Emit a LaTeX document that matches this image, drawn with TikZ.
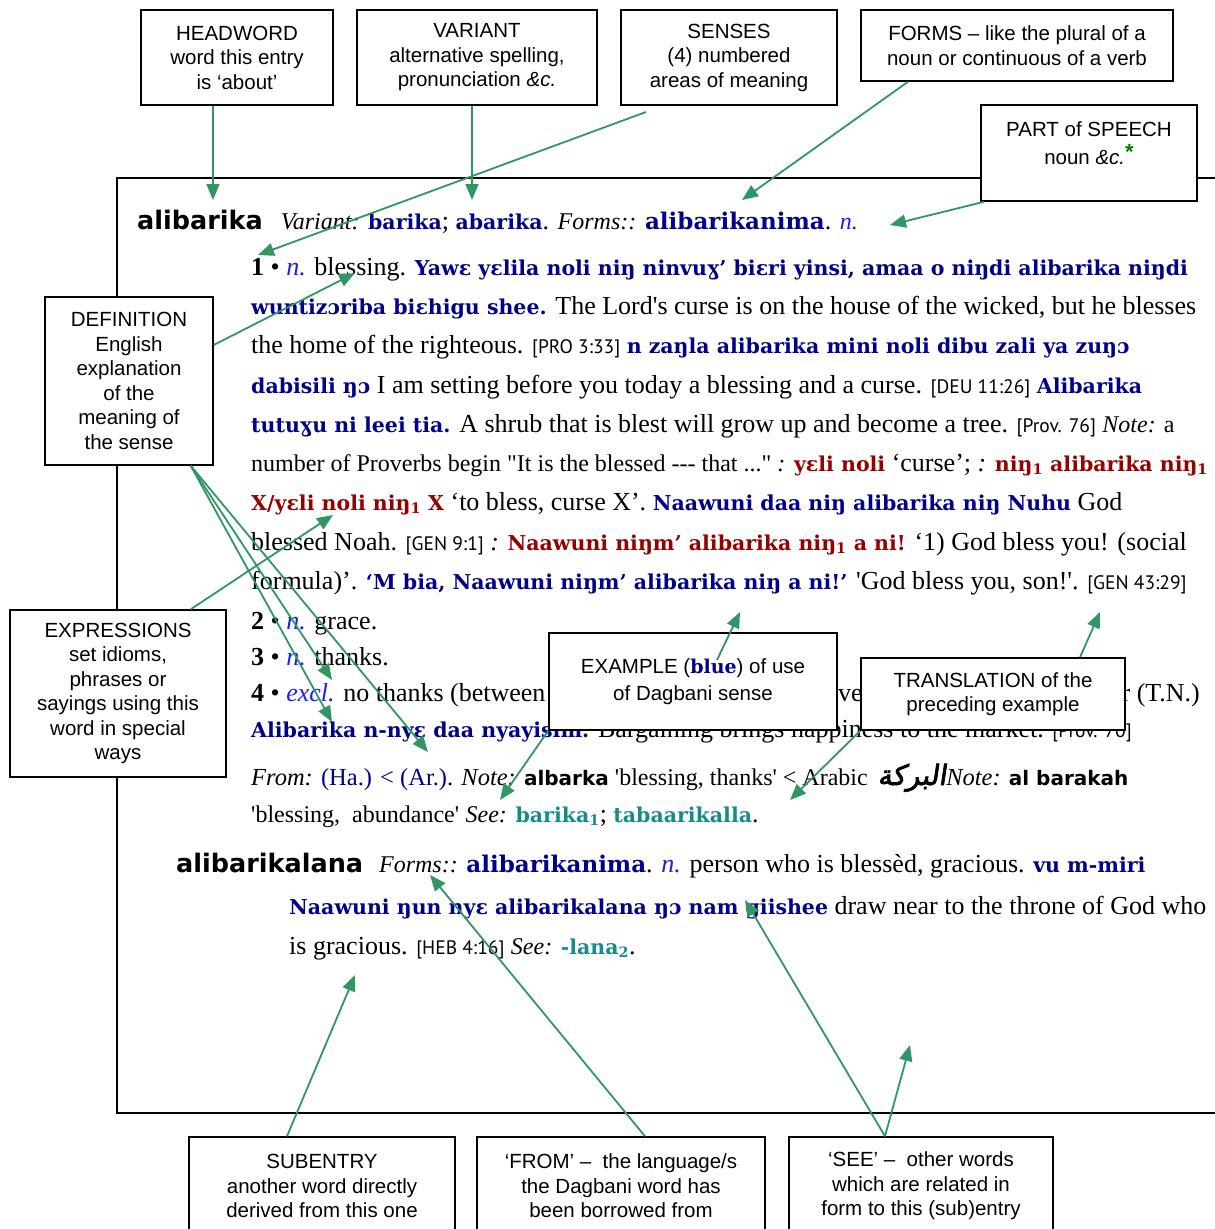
\documentclass[tikz,border=0pt]{standalone}
\usepackage{fontspec}
\setmainfont{Liberation Serif}[Ligatures=TeXOff]
\setsansfont{Liberation Sans}[Ligatures=TeXOff]
\newfontfamily\dagfont{DejaVu Serif}
\newfontfamily\hwfont{DejaVu Sans}
\newfontfamily\reffont{PT Sans}
\newfontfamily\arabicfont[Script=Arabic,FakeBold=2.5,FakeSlant=0.15]{DejaVu Sans}
\TeXXeTstate=1
\usetikzlibrary{arrows.meta}

\definecolor{dgblue}{RGB}{0,0,140}
\definecolor{dgred}{RGB}{150,0,0}
\definecolor{gramblue}{RGB}{30,30,235}
\definecolor{seeteal}{RGB}{20,140,140}
\definecolor{arrowgreen}{RGB}{50,150,100}
\definecolor{stargreen}{RGB}{0,130,0}

% runs of text in the entry
\newcommand{\dgb}[1]{{\dagfont\bfseries\fontsize{20.5bp}{24bp}\selectfont\color{dgblue}#1}}
\newcommand{\dgbig}[1]{{\dagfont\bfseries\fontsize{23bp}{26bp}\selectfont\color{dgblue}#1}}
\newcommand{\dgr}[1]{{\dagfont\bfseries\fontsize{20.5bp}{24bp}\selectfont\color{dgred}#1}}
\newcommand{\dgs}[1]{{\dagfont\bfseries\fontsize{20.5bp}{24bp}\selectfont\color{seeteal}#1}}
\newcommand{\hword}[1]{{\hwfont\bfseries\fontsize{25.5bp}{30bp}\selectfont #1}}
\newcommand{\loan}[1]{{\hwfont\bfseries\fontsize{20bp}{24bp}\selectfont #1}}
\newcommand{\gram}[1]{{\itshape\color{gramblue}#1}}
\newcommand{\bibref}[1]{{\reffont\fontsize{19.5bp}{22bp}\selectfont #1}}
\newcommand{\notesize}{\fontsize{24bp}{28bp}\selectfont}

\begin{document}
\begin{tikzpicture}[x=1bp,y=-1bp,
    entry/.style={anchor=base west, inner sep=0pt, font=\fontsize{26bp}{39bp}\selectfont},
    callout/.style={draw, line width=1.5bp, fill=white, align=center, inner sep=0pt,
      font=\sffamily\fontsize{20.5bp}{24.5bp}\selectfont}]

  \useasboundingbox (0,0) rectangle (1215,1229);
  \clip (0,0) rectangle (1215,1229);

  % page frame
  \draw[line width=1.5bp] (1230,178) -- (117,178) -- (117,1113) -- (1230,1113);

  % the entry
  \begin{scope}[every node/.style={entry}]
    \node (hw)  at (137,229) {\hword{alibarika}\hspace{18bp}{\notesize\itshape Variant:} \dgb{barika}; \dgb{abarika}. {\notesize\itshape Forms::} \dgbig{alibarikanima}. {\notesize\gram{n.}}};
    \node (l1)  at (251,275) {\textbf{1} • \gram{n.} blessing. \dgb{Yawɛ yɛlila noli niŋ ninvuɣ’ biɛri yinsi, amaa o niŋdi alibarika niŋdi}};
    \node (l2)  at (251,314) {\dgb{wuntizɔriba biɛhigu shee.} The Lord's curse is on the house of the wicked, but he blesses};
    \node (l3)  at (251,353) {the home of the righteous. \bibref{[PRO 3:33]} \dgb{n zaŋla alibarika mini noli dibu zali ya zuŋɔ}};
    \node (l4)  at (251,393) {\dgb{dabisili ŋɔ} I am setting before you today a blessing and a curse. \bibref{[DEU 11:26]} \dgb{Alibarika}};
    \node (l5)  at (251,432) {\dgb{tutuɣu ni leei tia.} A shrub that is blest will grow up and become a tree. \bibref{[Prov. 76]} {\notesize\textit{Note:} a}};
    \node (l6)  at (251,471) {{\notesize number of Proverbs begin "It is the blessed {-}{-}{-} that ..." \textit{:}} \dgr{yɛli noli} ‘curse’; \textit{:} \dgr{niŋ\textsubscript{1} alibarika niŋ\textsubscript{1}}};
    \node (l7)  at (251,510) {\dgr{X/yɛli noli niŋ\textsubscript{1} X} ‘to bless, curse X’. \dgb{Naawuni daa niŋ alibarika niŋ Nuhu} God};
    \node (l8)  at (251,550) {blessed Noah. \bibref{[GEN 9:1]} \textit{:} \dgr{Naawuni niŋm’ alibarika niŋ\textsubscript{1} a ni!} ‘1) God bless you! (social};
    \node (l9)  at (251,589) {formula)’. \dgb{‘M bia, Naawuni niŋm’ alibarika niŋ a ni!’} 'God bless you, son!'. \bibref{[GEN 43:29]}};
    \node (s2)  at (251,629) {\textbf{2} • \gram{n.} grace.};
    \node (s3)  at (251,665) {\textbf{3} • \gram{n.} thanks.};
    \node (s4)  at (251,701) {\textbf{4} • \gram{excl.} no thanks (between};
    \node (s4b) at (838,701) {ver};
    \node[anchor=base east] (s4c) at (1200,701) {r (T.N.)};
    \node (l13) at (251,737) {\dgb{Alibarika n-nyɛ daa nyayisim.} Bargaining brings happiness to the market. \bibref{[Prov. 70]}};
    \node[font=\fontsize{24.5bp}{39bp}\selectfont] (l14) at (251,785) {\textit{From:} {\color{dgblue}(Ha.) < (Ar.)}. \textit{Note:} \loan{albarka} {\notesize 'blessing, thanks' < Arabic}\hspace{10bp}{\arabicfont\fontsize{28bp}{30bp}\selectfont\beginR البركة\endR}\textit{Note:} \loan{al barakah}};
    \node (l15) at (251,822) {{\notesize 'blessing,\ \ abundance'} {\notesize\itshape See:} \dgs{barika\textsubscript{1}}; \dgs{tabaarikalla}.};
    \node (sub) at (176,872) {\hword{alibarikalana}\hspace{16bp}{\notesize\itshape Forms::} \dgbig{alibarikanima}. \gram{n.} person who is blessèd, gracious. \dgb{vu m-miri}};
    \node (m1)  at (289,914) {\dgb{Naawuni ŋun nyɛ alibarikalana ŋɔ nam ɡiishee} draw near to the throne of God who};
    \node (m2)  at (289,954) {is gracious. \bibref{[HEB 4:16]} {\notesize\itshape See:} \dgs{-lana\textsubscript{2}}.};
  \end{scope}

  % callout boxes
  \begin{scope}[every node/.style={callout}]
    \node[minimum width=192bp, minimum height=95bp] (headword) at (237,57.5) {HEADWORD\\word this entry\\is ‘about’};
    \node[minimum width=240bp, minimum height=95bp] (variant) at (477,57.5) {VARIANT\\alternative spelling,\\pronunciation \textit{\&c.}};
    \node[minimum width=216bp, minimum height=95bp] (senses) at (729,57.5) {SENSES\\(4) numbered\\areas of meaning};
    \node[minimum width=312bp, minimum height=71bp] (forms) at (1017,45.5) {FORMS – like the plural of a\\noun or continuous of a verb};
    \node[minimum width=216bp, minimum height=96bp] (pos) at (1089,153) {};
    \node[minimum width=168bp, minimum height=168bp] (def) at (129,381) {DEFINITION\\English\\explanation\\of the\\meaning of\\the sense};
    \node[minimum width=216bp, minimum height=167bp] (expr) at (118,693.5) {EXPRESSIONS\\set idioms,\\phrases or\\sayings using this\\word in special\\ways};
    \node[minimum width=288bp, minimum height=97bp] (example) at (693,681.5) {EXAMPLE ({\dagfont\bfseries\fontsize{19bp}{24bp}\selectfont\color{dgblue}blue}) of use\\[2bp]of Dagbani sense};
    \node[minimum width=264bp, minimum height=72bp] (transl) at (993,694) {TRANSLATION of the\\preceding example};
    \node[minimum width=266bp, minimum height=98bp] (subentry) at (322,1186) {SUBENTRY\\another word directly\\derived from this one};
    \node[minimum width=288bp, minimum height=98bp] (from) at (621,1186) {‘FROM’ –\ \ the language/s\\the Dagbani word has\\been borrowed from};
    \node[minimum width=264bp, minimum height=98bp] (see) at (921,1186) {‘SEE’ –\ \ other words\\which are related in\\form to this (sub)entry};
  \end{scope}
  \node[callout, draw=none, fill=none] (postext) at ([yshift=10bp]pos.center)
    {PART of SPEECH\\[4bp]noun \textit{\&c.}\raisebox{5bp}{\textcolor{stargreen}{\bfseries\fontsize{22bp}{22bp}\selectfont *}}};

  % where the arrows point
  \coordinate (tHead)  at (213,200);
  \coordinate (tVar)   at (472,200);
  \coordinate (sFoot)  at (646,112);
  \coordinate (tSense) at (258,255);
  \coordinate (tForms) at (742,200);
  \coordinate (tPos)   at (890,225);
  \coordinate (tBless) at (355,273);
  \coordinate (tExcl)  at (332,680);
  \coordinate (tAlib)  at (332,722);
  \coordinate (tDaa)   at (428,752);
  \coordinate (tNoli)  at (333,515);
  \coordinate (tEx)    at (740,612);
  \coordinate (tNote)  at (500,800);
  \coordinate (tTr)    at (1100,612);
  \coordinate (tArab)  at (790,800);
  \coordinate (tSub)   at (355,975);
  \coordinate (tForm2) at (430,875);
  \coordinate (tGii)   at (745,900);
  \coordinate (tSee)   at (910,1045);

  \begin{scope}[every edge/.style={draw=arrowgreen, line width=1.8bp, -{Triangle[length=16bp,width=13bp]}}]
    \path (headword.south -| tHead) edge (tHead);
    \path (variant.south -| tVar) edge (tVar);
    \path (sFoot) edge (tSense);
    \path ([xshift=-109bp]forms.south) edge (tForms);
    \path ([xshift=4bp]pos.south west) edge (tPos);
    \path ([yshift=36bp]def.east) edge (tBless);
    \path ([xshift=-23bp]def.south east) edge (tExcl);
    \path ([xshift=-23bp]def.south east) edge (tAlib);
    \path ([xshift=-23bp]def.south east) edge (tDaa);
    \path ([xshift=-36bp]expr.north east) edge (tNoli);
    \path ([xshift=24bp,yshift=21.5bp]example.center) edge (tEx);
    \path (example.south west) edge (tNote);
    \path ([xshift=87bp]transl.north) edge (tTr);
    \path (transl.south west) edge (tArab);
    \path ([xshift=-35bp]subentry.north) edge (tSub);
    \path ([xshift=24bp]from.north) edge (tForm2);
    \path ([xshift=-36bp]see.north) edge (tGii);
    \path ([xshift=-36bp]see.north) edge (tSee);
  \end{scope}

\end{tikzpicture}
\end{document}
